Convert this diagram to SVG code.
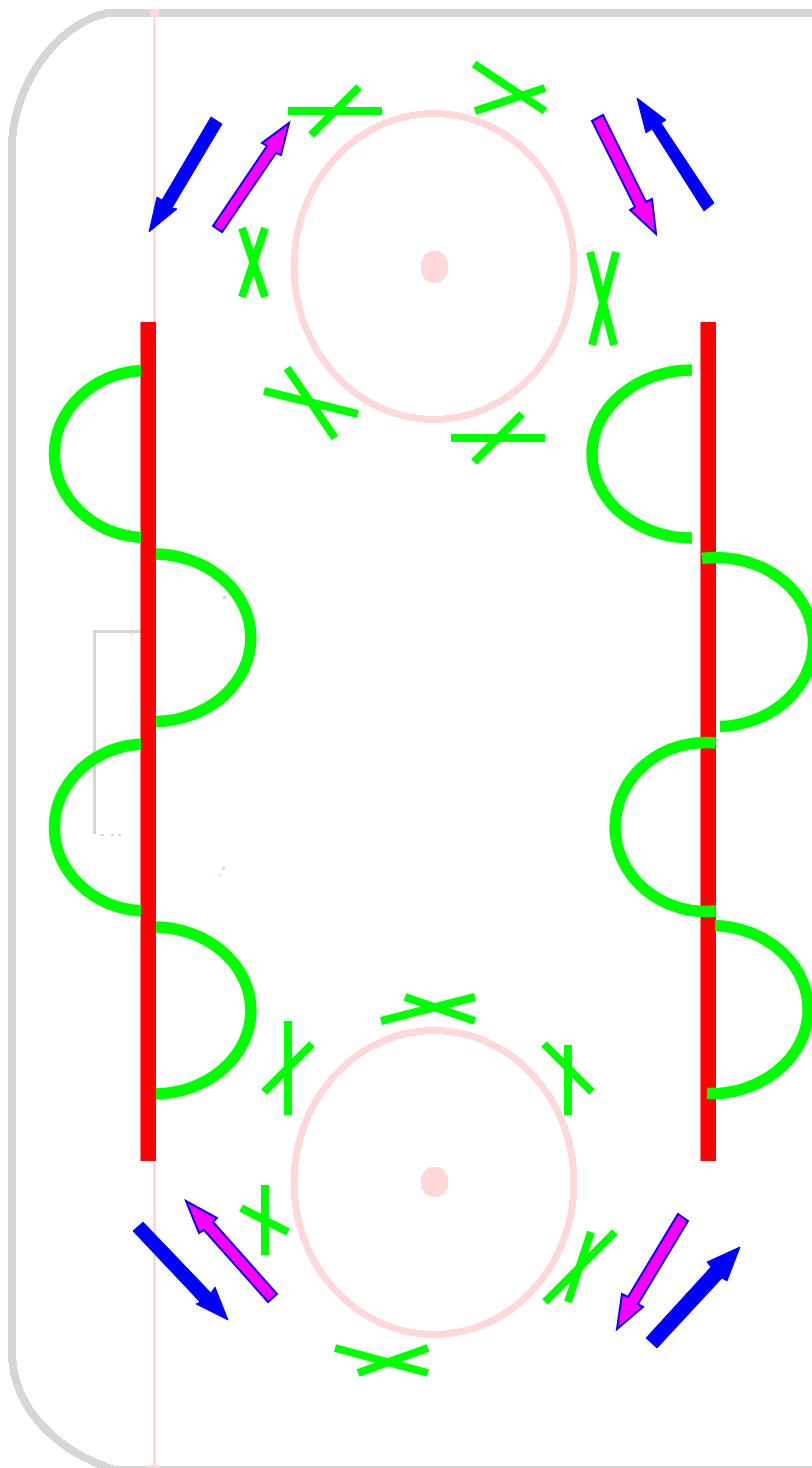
<svg xmlns="http://www.w3.org/2000/svg" width="812" height="1468" viewBox="0 0 812 1468">
<style>
.rink{fill:none;stroke:#d6d6d6;stroke-width:8;shape-rendering:crispEdges}
.thin{fill:none;stroke:#d6d6d6;stroke-width:3;shape-rendering:crispEdges}
.pink{fill:none;stroke:#ffd9d9;stroke-width:7;shape-rendering:crispEdges}
.dot{fill:#ffd9d9;shape-rendering:crispEdges}
.bar{fill:#f00}
.arc{fill:none;stroke:#0f0;stroke-width:11.500}
.x{stroke:#0f0;stroke-width:8;fill:none}
.blue{fill:#00f;stroke:#00f;stroke-width:1}
.mag{fill:#f0f;stroke:#00f;stroke-width:2}
</style>
<rect width="812" height="1468" fill="#fff"/>
<g id="rink">
<path class="rink" d="M812 13H108C62 22 18 75 12 140V1355C14 1410 58 1452 115 1470H194"/>
<path class="thin" d="M194 1467H812"/>
<path class="thin" d="M141 631H94V834"/>
<path d="M100 835h4M111 835h3M118 835h3" stroke="#d6d6d6" stroke-width="2" fill="none"/>
<rect x="223" y="596" width="3" height="3" fill="#d6d6d6"/>
<rect x="130" y="632" width="3" height="3" fill="#ffd9d9"/>
<rect x="222" y="867" width="3" height="3" fill="#d8d8f8"/>
<rect x="218" y="873" width="4" height="4" fill="#d8ffff"/>
</g>
<g id="center-line">
<rect x="153" y="9" width="3" height="1459" fill="#ffd9d9"/>
<rect x="150" y="9" width="9" height="8" fill="#ffd9d9"/>
<rect x="150" y="1465" width="9" height="3" fill="#ffd9d9"/>
</g>
<g id="circle-top">
<ellipse class="pink" cx="434" cy="266.500" rx="140" ry="153"/>
<ellipse class="dot" cx="434.500" cy="267" rx="14" ry="16.500"/>
</g>
<g id="circle-bottom">
<ellipse class="pink" cx="434" cy="1182.500" rx="140" ry="152"/>
<ellipse class="dot" cx="434.500" cy="1182" rx="14" ry="15.500"/>
</g>
<g id="crosses">
<path class="x" d="M288 111H382M359 87L311 135"/>
<path class="x" d="M474 64L545 111M475 111L545 88"/>
<path class="x" d="M590 252L614 345M616 252L592 345"/>
<path class="x" d="M242 228L265 297M265 228L242 297"/>
<path class="x" d="M264 391L358 414M287 368L335 438"/>
<path class="x" d="M451 438H545M522 414L474 462"/>
<path class="x" d="M381 1021L475 997M405 997L475 1021"/>
<path class="x" d="M288 1021V1115M312 1044L264 1092"/>
<path class="x" d="M568 1045V1115M544 1044L592 1092"/>
<path class="x" d="M265 1185V1255M241 1208L288 1232"/>
<path class="x" d="M615 1232L545 1302M591 1232L568 1302"/>
<path class="x" d="M335 1348L428 1373M428 1348L358 1373"/>
</g>
<g id="bar-left"><rect class="bar" x="140.500" y="322" width="15.500" height="839"/></g>
<g id="bar-right"><rect class="bar" x="700.500" y="322" width="15.500" height="839"/></g>
<g id="connectors">
<path class="arc" d="M141 370.500A93.500 83.730 0 0 0 141 537.500"/>
<path class="arc" d="M156 554A97 83.770 0 0 1 156 721.500"/>
<path class="arc" d="M141 744A93.500 83.730 0 0 0 141 911"/>
<path class="arc" d="M156 927A97 83.520 0 0 1 156 1094"/>
<path class="arc" d="M692 370A100 84 0 0 0 692 538"/>
<path class="arc" d="M702 558.500A97 84.500 0 1 1 720 726.500"/>
<path class="arc" d="M716 743A91 84.500 0 1 0 716 911"/>
<path class="arc" d="M715 925.500A97 84 0 1 1 707 1093.500"/>
</g>
<g id="arrows">
<polygon class="blue" points="211,117 222,124 172,208 177,209 149,232 157,197 162,200"/>
<polygon class="mag" points="213,226 222,232 276,153 281,155 289,123 262,143 267,146"/>
<polygon class="blue" points="704,211 714,203 661,123 666,120 637,98 646,133 652,129"/>
<polygon class="mag" points="592,121 603,115 646,202 652,199 656,234 630,210 635,207"/>
<polygon class="blue" points="143,1222 133,1231 200,1302 196,1304 228,1320 215,1287 211,1293"/>
<polygon class="mag" points="277,1294 268,1302 204,1230 199,1233 186,1201 217,1218 213,1222"/>
<polygon class="blue" points="646,1338 657,1348 722,1278 727,1281 740,1247 707,1262 711,1267"/>
<polygon class="mag" points="678,1214 688,1221 638,1304 643,1307 617,1329 622,1294 628,1297"/>
</g>
</svg>
